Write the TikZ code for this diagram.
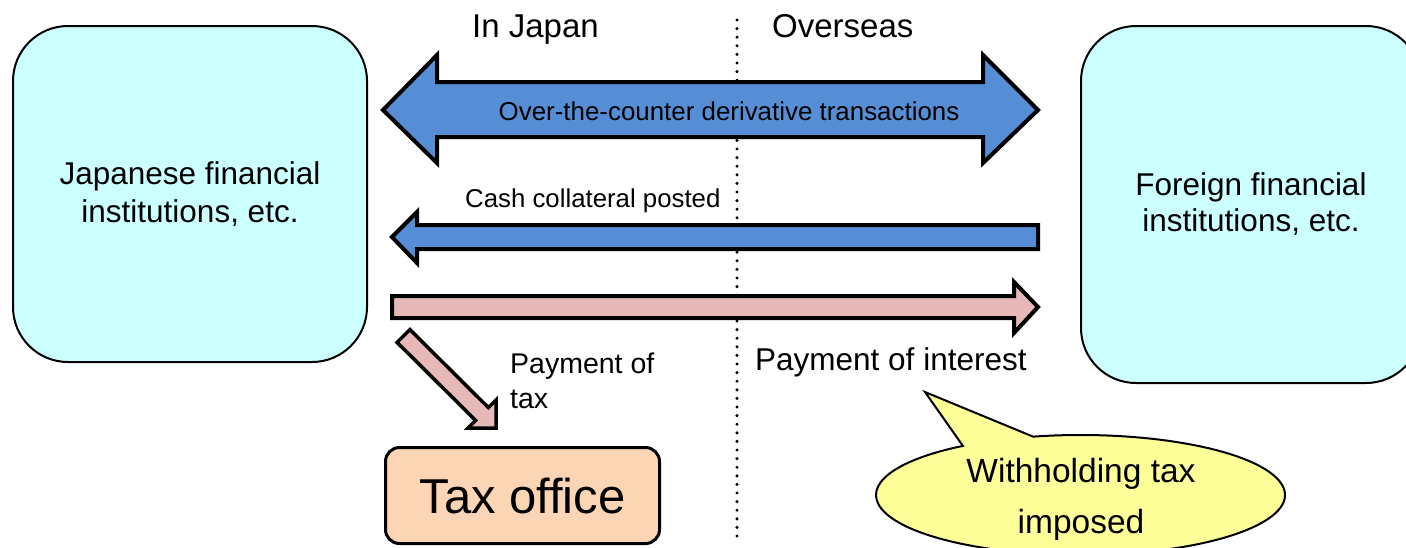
\documentclass[tikz,border=0pt]{standalone}
\usepackage{fontspec}
\setmainfont{Liberation Sans}
\usetikzlibrary{calc}
\definecolor{boxcyan}{HTML}{CCFFFF}
\definecolor{arrowblue}{HTML}{558ED5}
\definecolor{arrowpink}{HTML}{E6B9B8}
\definecolor{taxpeach}{HTML}{FCD5B5}
\definecolor{calloutyellow}{HTML}{FFFF99}

\begin{document}
\begin{tikzpicture}[x=1pt,y=-1pt,
  party/.style={draw=black, line width=2pt, fill=boxcyan, rounded corners=55pt,
    inner sep=0pt, align=center, anchor=north west},
  taxbox/.style={draw=black, line width=3pt, fill=taxpeach, rounded corners=14pt,
    inner sep=0pt, anchor=north west, font=\fontsize{49}{58}\selectfont},
  blockarrow/.style={draw=black, line width=4pt, line join=miter},
  divider/.style={line width=3.4pt, line cap=round, dash pattern=on 0pt off 8.6pt},
  callout/.style={draw=black, line width=2pt, fill=calloutyellow, line join=miter},
  lbl/.style={inner sep=0pt, anchor=base west},
]
\clip (0,0) rectangle (1406,547);
\useasboundingbox (0,0) rectangle (1406,547);

% region headings and the border between them
\node[lbl, font=\fontsize{33}{40}\selectfont] (hjp) at (472,37) {In Japan};
\node[lbl, font=\fontsize{33}{40}\selectfont] (hos) at (772,37) {Overseas};
\coordinate (divTop) at (737,20);
\coordinate (divBot) at (737,540);
\draw[divider] (divTop) -- (divBot);

% the two parties
\node[party, minimum width=354pt, minimum height=336pt,
  font=\fontsize{31.5}{38}\selectfont] (jp) at (12,25)
  {Japanese financial\\institutions, etc.};
\node[party, minimum width=340pt, minimum height=357pt,
  font=\fontsize{31.5}{36}\selectfont] (fo) at (1080,25)
  {Foreign financial\\institutions, etc.};

% tax office
\node[taxbox, minimum width=274pt, minimum height=96pt] (tax) at (384,446) {Tax office};

% OTC derivative transactions (two-way)
\coordinate (otcW) at (383,110);
\coordinate (otcE) at (1038,110);
\draw[blockarrow, fill=arrowblue] (otcW) -- ++(54,-55) -- ++(0,27)
  -- ($(otcE)+(-55,-28)$) -- ++(0,-27) -- (otcE) -- ++(-55,53) -- ++(0,-26)
  -- ($(otcW)+(54,27)$) -- ++(0,26) -- cycle;
\node[font=\fontsize{25.9}{30}\selectfont, inner sep=0pt, anchor=base] (otc)
  at (729,120) {Over-the-counter derivative transactions};

% cash collateral, overseas to Japan
\coordinate (cashW) at (392,237);
\coordinate (cashE) at (1038,237);
\draw[blockarrow, fill=arrowblue] (cashW) -- ++(25,-25) -- ++(0,13)
  -- ($(cashE)+(0,-12)$) -- ($(cashE)+(0,12)$) -- ($(cashW)+(25,12)$)
  -- ++(0,14) -- cycle;
\node[lbl, font=\fontsize{25.8}{30}\selectfont] (cash) at (465,207) {Cash collateral posted};

% interest, Japan to overseas
\coordinate (intW) at (392,307);
\coordinate (intE) at (1038,307);
\draw[blockarrow, fill=arrowpink] ($(intW)+(0,-11)$) -- ($(intE)+(-24,-11)$)
  -- ++(0,-14) -- (intE) -- ($(intE)+(-24,26)$) -- ++(0,-15)
  -- ($(intW)+(0,11)$) -- cycle;
\node[lbl, font=\fontsize{31.5}{38}\selectfont] (intlbl) at (755,370) {Payment of interest};

% tax payment to the tax office
\coordinate (taxS) at (403.5,336);
\coordinate (taxT) at (496,428);
\draw[blockarrow, line width=3.5pt, fill=arrowpink]
  ($(taxS)+(6.4,-6.4)$) -- ($(taxT)+(-7.6,-20.4)$) -- ($(taxT)+(0,-28)$)
  -- (taxT) -- ($(taxT)+(-28,0)$) -- ($(taxT)+(-20.4,-7.6)$)
  -- ($(taxS)+(-6.4,6.4)$) -- cycle;
% multi-line labels: the base anchor sits on the last line
\node[lbl, font=\fontsize{28.5}{35}\selectfont, align=left] (paytax) at (510,408)
  {Payment of\\tax};

% withholding tax callout
\coordinate (callC) at (1080.5,495);
\coordinate (callTip) at (925,392);
\draw[callout] ($(callC)+(-103.4:204.5 and 60)$)
  arc[start angle=-103.4, end angle=234.9, x radius=204.5, y radius=60]
  -- (callTip) -- cycle;
\node[font=\fontsize{33.5}{51}\selectfont, inner sep=0pt, align=center, anchor=base]
  (wht) at (1081,533) {Withholding tax\\imposed};
\end{tikzpicture}
\end{document}
